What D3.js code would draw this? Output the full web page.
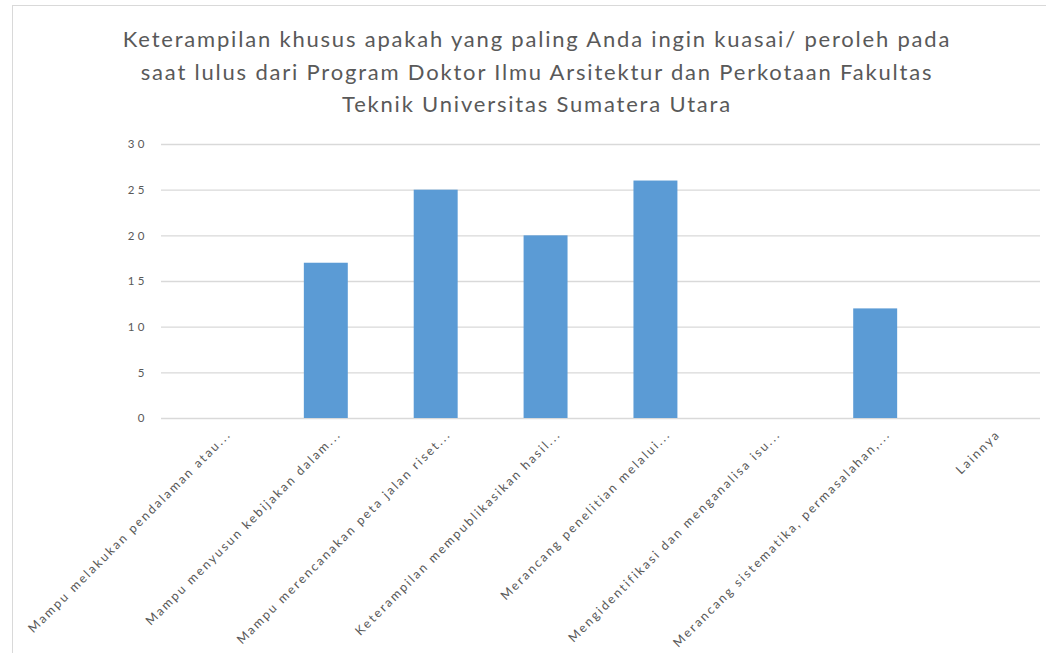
<!DOCTYPE html>
<html>
<head>
<meta charset="utf-8">
<script src="https://cdn.jsdelivr.net/npm/d3@7"></script>
<style>
  body { margin: 0; background: #fff; }
  svg { display: block; }
</style>
</head>
<body>
<div id="chart"></div>
<script>
var titleLines = [
  'Keterampilan khusus apakah yang paling Anda ingin kuasai/ peroleh pada',
  'saat lulus dari Program Doktor Ilmu Arsitektur dan Perkotaan Fakultas',
  'Teknik Universitas Sumatera Utara'
];
var categories = [
  'Mampu melakukan pendalaman atau...',
  'Mampu menyusun kebijakan dalam...',
  'Mampu merencanakan peta jalan riset...',
  'Keterampilan mempublikasikan hasil...',
  'Merancang penelitian melalui...',
  'Mengidentifikasi dan menganalisa isu...',
  'Merancang sistematika, permasalahan,...',
  'Lainnya'
];
var values = [0, 17, 25, 20, 26, 0, 12, 0];
var yTicks = [0, 5, 10, 15, 20, 25, 30];

var width = 1046, height = 653;
var plot = { left: 161, right: 1040, top: 144, bottom: 418 };
var textColor = '#595959';
var font = 'Lato, "Open Sans", sans-serif';

var svg = d3.select('#chart').append('svg')
    .attr('width', width)
    .attr('height', height);

// chart frame
svg.append('rect')
    .attr('x', 12.5)
    .attr('y', 5.5)
    .attr('width', 1060)
    .attr('height', 680)
    .attr('fill', 'none')
    .attr('stroke', '#d9d9d9');

var x = d3.scaleBand()
    .domain(categories)
    .range([plot.left, plot.right])
    .paddingInner(0.6)
    .paddingOuter(0.3);

var y = d3.scaleLinear()
    .domain([0, 30])
    .range([plot.bottom, plot.top]);

// title
svg.append('text')
    .attr('x', 537)
    .attr('y', 47)
    .attr('text-anchor', 'middle')
    .attr('font-family', font)
    .attr('font-size', 22)
    .attr('letter-spacing', 1.8)
    .attr('fill', textColor)
    .selectAll('tspan')
    .data(titleLines)
    .join('tspan')
    .attr('x', 537)
    .attr('dy', function(d, i) { return i === 0 ? 0 : 32.5; })
    .text(function(d) { return d; });

// gridlines + y labels
var yAxis = svg.append('g')
    .attr('transform', 'translate(' + plot.left + ',0)')
    .call(d3.axisLeft(y)
        .tickValues(yTicks)
        .tickSize(-(plot.right - plot.left))
        .tickPadding(13));
yAxis.select('.domain').remove();
yAxis.selectAll('.tick line')
    .attr('stroke', '#d9d9d9')
    .attr('stroke-width', 1.3);
yAxis.selectAll('.tick text')
    .attr('fill', textColor)
    .attr('font-family', font)
    .attr('font-size', 11.5)
    .attr('letter-spacing', 3.5);

// bars
svg.append('g').selectAll('rect')
    .data(values)
    .join('rect')
    .attr('x', function(d, i) { return x(categories[i]); })
    .attr('y', function(d) { return y(d); })
    .attr('width', x.bandwidth())
    .attr('height', function(d) { return y(0) - y(d); })
    .attr('fill', '#5b9bd5');

// x labels, rotated
var xAxis = svg.append('g')
    .attr('transform', 'translate(0,' + plot.bottom + ')')
    .call(d3.axisBottom(x).tickSize(0).tickPadding(0));
xAxis.select('.domain').remove();
xAxis.selectAll('.tick text')
    .attr('fill', textColor)
    .attr('font-family', font)
    .attr('font-size', 12.5)
    .attr('letter-spacing', 2.1)
    .attr('text-anchor', 'end')
    .attr('dy', 0)
    .attr('transform', 'translate(16,17) rotate(-45)');
</script>
</body>
</html>
